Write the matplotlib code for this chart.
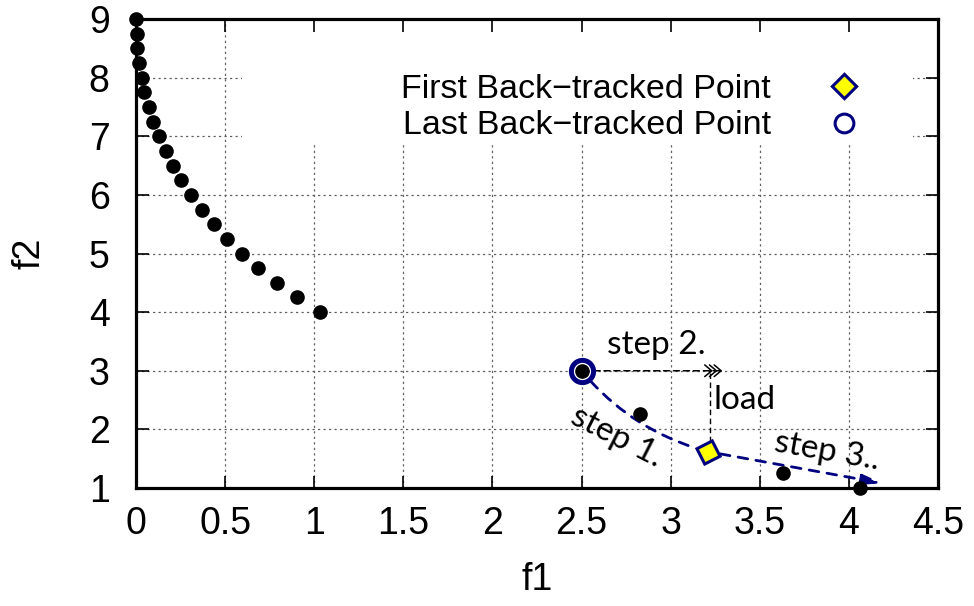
import matplotlib
matplotlib.use('Agg')
import matplotlib.pyplot as plt
from matplotlib.lines import Line2D
from matplotlib.patches import Rectangle
from matplotlib.transforms import offset_copy

plt.rcParams['font.family'] = ['Liberation Sans', 'DejaVu Sans']

# non-dominated front
front_f1 = [0.0, 0.004, 0.007, 0.017, 0.032, 0.047, 0.073, 0.097, 0.131, 0.167, 0.206,
            0.254, 0.307, 0.370, 0.438, 0.509, 0.596, 0.686, 0.789, 0.901, 1.03]
front_f2 = [9.0, 8.75, 8.5, 8.25, 8.0, 7.75, 7.5, 7.25, 7.0, 6.75, 6.5,
            6.25, 6.0, 5.75, 5.5, 5.25, 5.0, 4.75, 4.5, 4.25, 4.0]

# remaining solutions
other_f1 = [2.5, 2.83, 3.63, 4.06]
other_f2 = [3.0, 2.26, 1.25, 1.0]

first_bt = (3.21, 1.62)   # first back-tracked point
last_bt = (2.5, 3.0)      # last back-tracked point
step2_end = (3.29, 3.0)
step3_end = (4.19, 1.08)
load_x = 3.22
load_f2 = [2.97, 1.77]

xticks = [0, 0.5, 1, 1.5, 2, 2.5, 3, 3.5, 4, 4.5]
xtick_labels = ['0', '0.5', '1', '1.5', '2', '2.5', '3', '3.5', '4', '4.5']
yticks = [1, 2, 3, 4, 5, 6, 7, 8, 9]

NAVY = '#000080'
GRID = dict(color='#606060', lw=0.9, ls=(0, (1.8, 2.6)), zorder=0.5)
DASH = (0, (3.5, 3))

fig = plt.figure(figsize=(9.74, 6.06), dpi=100)
ax = fig.add_axes([0.1396, 0.1947, 0.8234, 0.7739])
ax.set_xlim(0, 4.5)
ax.set_ylim(1, 9)

# grid lines, covered by the key area at the top
for x in xticks[1:-1]:
    ax.axvline(x, **GRID)
for y in yticks[1:-1]:
    ax.axhline(y, **GRID)
ax.add_patch(Rectangle((0.132, 0.735), 0.837, 0.27, transform=ax.transAxes,
                       facecolor='white', edgecolor='none', zorder=1))

# step 1: curved path from last to first back-tracked point
ax.annotate('', xy=first_bt, xytext=last_bt,
            arrowprops=dict(arrowstyle='-', color=NAVY, lw=2, ls=DASH,
                            connectionstyle='arc3,rad=0.16', shrinkA=10, shrinkB=9))

# step 2: dashed line with triple open head
ax.annotate('', xy=step2_end, xytext=last_bt,
            arrowprops=dict(arrowstyle='-', color='black', lw=1.1, ls=(0, (4, 2.5)),
                            shrinkA=9, shrinkB=0))
for i in range(3):
    ax.annotate('', xy=step2_end,
                xycoords=offset_copy(ax.transData, fig=fig, x=-3.4 * i, y=0, units='points'),
                xytext=(-2, 0), textcoords='offset points',
                arrowprops=dict(arrowstyle='->,head_length=0.5,head_width=0.42',
                                color='black', lw=1.1, shrinkA=0, shrinkB=0))

# load
ax.plot([load_x, load_x], load_f2, color='black', lw=1.0, ls=(0, (4, 2.5)), zorder=2)

# step 3
ax.annotate('', xy=step3_end, xytext=first_bt,
            arrowprops=dict(arrowstyle='-|>,head_length=1.2,head_width=0.3', color=NAVY,
                            lw=2, ls=DASH, shrinkA=9, shrinkB=0))

ax.plot(*last_bt, ls='none', marker='o', ms=16, mfc='none', mec=NAVY, mew=3.6, zorder=3)
ax.plot(front_f1, front_f2, ls='none', marker='o', ms=9.5, color='black', zorder=4, clip_on=False)
ax.plot(other_f1, other_f2, ls='none', marker='o', ms=9.5, color='black', zorder=4, clip_on=False)
ax.plot(*first_bt, ls='none', marker=(4, 0, -18), ms=17.5, mfc='yellow', mec=NAVY, mew=2.2, zorder=5)

step_font = dict(family=['Lato', 'DejaVu Sans'], fontsize=24, ha='center', va='center')
ax.text(2.92, 3.44, 'step 2.', **step_font)
ax.text(2.70, 1.87, 'step 1.', rotation=-27, rotation_mode='anchor', **step_font)
ax.text(3.875, 1.62, 'step 3..', rotation=-10, rotation_mode='anchor', **step_font)
ax.text(3.24, 2.5, 'load', family=['Lato', 'DejaVu Sans'], fontsize=24, ha='left', va='center')

handles = [
    Line2D([], [], ls='none', marker=(4, 0, 0), ms=17.5, mfc='yellow', mec=NAVY, mew=2.2),
    Line2D([], [], ls='none', marker='o', ms=13.5, mfc='none', mec=NAVY, mew=2.2),
]
ax.legend(handles, ['First Back\u2212tracked Point', 'Last Back\u2212tracked Point'],
          loc='upper right', bbox_to_anchor=(0.915, 0.882), frameon=False,
          markerfirst=False, handlelength=1.5, handletextpad=1.41, labelspacing=0.15,
          borderpad=0, borderaxespad=0, fontsize=24.5)

ax.set_xticks(xticks)
ax.set_xticklabels(xtick_labels)
ax.set_yticks(yticks)
ax.tick_params(direction='in', top=True, right=True, length=9, width=1.2, labelsize=27)
ax.tick_params(axis='x', pad=13)
ax.tick_params(axis='y', pad=19)
for s in ax.spines.values():
    s.set_linewidth(2.3)

ax.set_xlabel('f1', fontsize=27, labelpad=14)
ax.set_ylabel('f2', fontsize=27, labelpad=30)

fig.savefig('out.png', dpi=100)
